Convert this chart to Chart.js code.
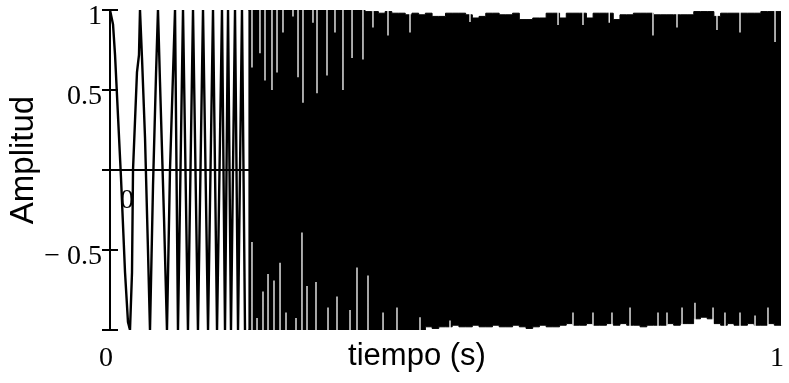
<!DOCTYPE html>
<html>
<head>
<meta charset="utf-8">
<script src="https://cdn.jsdelivr.net/npm/chart.js@4.4.1/dist/chart.umd.min.js"></script>
<style>
  html, body { margin: 0; padding: 0; background: #fff; }
  #wrap { width: 789px; height: 383px; }
</style>
</head>
<body>
<div id="wrap"><canvas id="chirp" width="789" height="383"></canvas></div>
<script>
// early part of the chirp: turning points (s, amplitude)
const earlyT = [0, 0.0045, 0.0075, 0.0119, 0.0164, 0.0224, 0.0268, 0.0298, 0.0328, 0.0343, 0.0402, 0.0432,
    0.0447, 0.0477, 0.0522, 0.0566, 0.0596, 0.0641, 0.0686, 0.0715, 0.0745, 0.0805, 0.0849, 0.0894, 0.0939,
    0.0969, 0.1013, 0.1088, 0.1162, 0.1237, 0.1311, 0.1386, 0.1461, 0.1535, 0.1595, 0.1669, 0.1714, 0.1759,
    0.1803, 0.1863, 0.1908, 0.1967, 0.2012];
const earlyY = [1, 0.91, 0.72, 0.34, -0.05, -0.64, -0.95, -1, -0.64, 0, 0.61, 0.72,
    1, 0.7, 0.2, -0.5, -1, -0.1, 0.6, 1, 0.55, -0.3, -1, 0, 0.6,
    1, -1, 1, -1, 1, -1, 1, -1, 1, -1, 1, -1, 1,
    -1, 1, -1, 1, -1];

// dense part: upper / lower edge of the black band
const envT = [0.206, 0.21, 0.22, 0.23, 0.24, 0.25, 0.26, 0.27, 0.28, 0.29, 0.30, 0.31, 0.32, 0.33, 0.34, 0.35,
    0.36, 0.37, 0.38, 0.39, 0.40, 0.41, 0.42, 0.43, 0.44, 0.45, 0.46, 0.47, 0.48, 0.49, 0.50, 0.51, 0.52, 0.53,
    0.54, 0.55, 0.56, 0.57, 0.58, 0.59, 0.60, 0.61, 0.62, 0.63, 0.64, 0.65, 0.66, 0.67, 0.68, 0.69, 0.70, 0.71,
    0.72, 0.73, 0.74, 0.75, 0.76, 0.77, 0.78, 0.79, 0.80, 0.81, 0.82, 0.83, 0.84, 0.85, 0.86, 0.87, 0.88, 0.89,
    0.90, 0.91, 0.92, 0.93, 0.94, 0.95, 0.96, 0.97, 0.98, 0.99, 1.00];
const envUpper = [1, 1, 1, 1, 1, 1, 1, 1, 1, 1, 1, 1, 1, 1, 1, 1,
    1, 1, 0.99, 0.99, 0.98, 0.99, 0.98, 0.98, 0.97, 0.98, 0.97, 0.98, 0.96, 0.96, 0.98, 0.98, 0.98, 0.97,
    0.95, 0.96, 0.98, 0.98, 0.97, 0.97, 0.98, 0.94, 0.94, 0.95, 0.95, 0.98, 0.98, 0.95, 0.98, 0.98, 0.98, 0.95,
    0.98, 0.98, 0.98, 0.94, 0.97, 0.97, 0.98, 0.98, 0.98, 0.97, 0.97, 0.97, 0.97, 0.97, 0.97, 0.99, 0.99, 0.99,
    0.96, 0.98, 0.98, 0.98, 0.98, 0.98, 0.98, 0.99, 0.99, 0.99, 0.98];
const envLower = [-1, -1, -1, -1, -1, -1, -1, -1, -1, -1, -1, -1, -1, -1, -1, -1,
    -1, -1, -1, -1, -1, -1, -1, -1, -1, -1, -1, -0.98, -0.99, -0.98, -0.98, -0.97, -0.98, -0.98,
    -0.97, -0.98, -0.98, -0.97, -0.98, -0.98, -0.97, -0.98, -0.99, -0.98, -0.97, -0.98, -0.98, -0.97, -0.96, -0.97, -0.97, -0.96,
    -0.97, -0.97, -0.96, -0.97, -0.96, -0.97, -0.97, -0.98, -0.97, -0.97, -0.97, -0.96, -0.97, -0.96, -0.96, -0.93, -0.92, -0.93,
    -0.96, -0.97, -0.96, -0.97, -0.97, -0.96, -0.97, -0.97, -0.96, -0.97, -0.96];

// white gaps cutting into the band from the top and from the bottom
const gapTopT = [0.2116, 0.2235, 0.2310, 0.2414, 0.2489, 0.2578, 0.2727, 0.2802, 0.2876, 0.3025, 0.3085, 0.3234,
    0.3353, 0.3472, 0.3607, 0.3770, 0.3919, 0.4143, 0.4471, 0.5365, 0.6677, 0.7049, 0.7440, 0.8092, 0.8450,
    0.9046, 0.9389, 0.9911];
const gapTopY = [0.64, 0.73, 0.56, 0.5, 0.61, 0.86, 0.96, 0.58, 0.42, 0.92, 0.48, 0.59,
    0.86, 0.5, 0.7, 0.69, 0.89, 0.84, 0.86, 0.925, 0.906, 0.906, 0.92, 0.84, 0.89,
    0.875, 0.86, 0.8];
const gapBottomT = [0.2116, 0.2191, 0.2280, 0.2355, 0.2444, 0.2534, 0.2623, 0.2772, 0.2861, 0.2936, 0.3070, 0.3249,
    0.3383, 0.3577, 0.3681, 0.3845, 0.4069, 0.4277, 0.4620, 0.5067, 0.6900, 0.7198, 0.7481, 0.7750, 0.8167,
    0.8301, 0.8525, 0.8718, 0.8987, 0.9165, 0.9389, 0.9613, 0.9806];
const gapBottomY = [-0.45, -0.925, -0.76, -0.65, -0.69, -0.58, -0.89, -0.925, -0.39, -0.725, -0.7, -0.86,
    -0.79, -0.875, -0.61, -0.66, -0.89, -0.86, -0.92, -0.94, -0.89, -0.89, -0.89, -0.86, -0.89,
    -0.89, -0.86, -0.83, -0.86, -0.89, -0.89, -0.91, -0.86];

const yTickMarks = [1, 0.5, -0.5, -1];
const yTickText = { '1': '1', '0.5': '0.5', '-0.5': '\u2212 0.5' };
const xTickText = { '0': '0', '1': '1' };

const toPoints = (xs, ys) => xs.map((x, i) => ({ x, y: ys[i] }));
const gapPoints = (xs, ys, edge) => xs.flatMap((x, i) => [{ x, y: edge }, { x, y: ys[i] }, { x, y: null }]);

const mathcadAxes = {
    id: 'mathcadAxes',
    beforeDatasetsDraw(chart) {
        const { ctx, scales: { x, y } } = chart;
        const x0 = x.getPixelForValue(0);
        const y0 = y.getPixelForValue(0);
        ctx.save();
        ctx.strokeStyle = '#000';
        ctx.lineWidth = 2;
        ctx.beginPath();
        ctx.moveTo(x0, y.getPixelForValue(1));
        ctx.lineTo(x0, y.getPixelForValue(-1));
        yTickMarks.forEach(v => {
            const py = y.getPixelForValue(v);
            ctx.moveTo(x0 - 8, py);
            ctx.lineTo(x0 + 8, py);
        });
        ctx.moveTo(x0 - 8, y0);
        ctx.lineTo(x.getPixelForValue(1), y0);
        ctx.stroke();
        ctx.restore();
    },
    afterDraw(chart) {
        const { ctx, scales: { x, y } } = chart;
        ctx.save();
        ctx.fillStyle = '#000';
        ctx.textAlign = 'center';
        ctx.textBaseline = 'middle';
        // origin label that Mathcad puts just inside the plot
        ctx.font = '28px "Liberation Serif"';
        ctx.fillText('0', x.getPixelForValue(0) + 17, y.getPixelForValue(0) + 31);

        ctx.textBaseline = 'alphabetic';
        ctx.font = '31px "Liberation Sans"';
        ctx.fillText('tiempo (s)', 417, 365);
        ctx.font = '33px "Liberation Sans"';
        ctx.translate(33, 160);
        ctx.rotate(-Math.PI / 2);
        ctx.fillText('Amplitud', 0, 0);
        ctx.restore();
    }
};

new Chart(document.getElementById('chirp'), {
    type: 'line',
    data: {
        datasets: [
            {
                data: gapPoints(gapTopT, gapTopY, 1.02),
                borderColor: '#fff',
                borderWidth: 1.3,
                spanGaps: false
            },
            {
                data: gapPoints(gapBottomT, gapBottomY, -1.02),
                borderColor: '#fff',
                borderWidth: 1.3,
                spanGaps: false
            },
            {
                data: toPoints(earlyT, earlyY),
                borderColor: '#000',
                borderWidth: 2.4
            },
            {
                data: toPoints(envT, envUpper),
                borderColor: '#000',
                backgroundColor: '#000',
                borderWidth: 1,
                stepped: true,
                fill: '+1'
            },
            {
                data: toPoints(envT, envLower),
                borderColor: '#000',
                borderWidth: 1,
                stepped: true
            }
        ]
    },
    options: {
        responsive: false,
        animation: false,
        events: [],
        clip: 0,
        layout: { padding: { left: 0, right: 8, top: 10, bottom: 0 } },
        elements: { point: { radius: 0 }, line: { tension: 0 } },
        plugins: {
            legend: { display: false },
            tooltip: { enabled: false }
        },
        scales: {
            x: {
                type: 'linear',
                min: 0,
                max: 1,
                grid: { display: false, drawTicks: false },
                border: { display: false },
                afterFit: s => { s.height = 53; s.paddingLeft = 0; s.paddingRight = 0; },
                ticks: {
                    stepSize: 1,
                    padding: 12,
                    labelOffset: -4,
                    maxRotation: 0,
                    color: '#000',
                    font: { family: 'Liberation Serif', size: 28 },
                    callback: v => xTickText[String(v)] ?? ''
                }
            },
            y: {
                min: -1,
                max: 1,
                grid: { display: false, drawTicks: false },
                border: { display: false },
                afterFit: s => { s.width = 110; s.paddingTop = 0; s.paddingBottom = 0; },
                ticks: {
                    stepSize: 0.5,
                    padding: 8,
                    labelOffset: 7,
                    color: '#000',
                    font: { family: 'Liberation Serif', size: 28 },
                    callback: v => yTickText[String(v)] ?? ''
                }
            }
        }
    },
    plugins: [mathcadAxes]
});
</script>
</body>
</html>
